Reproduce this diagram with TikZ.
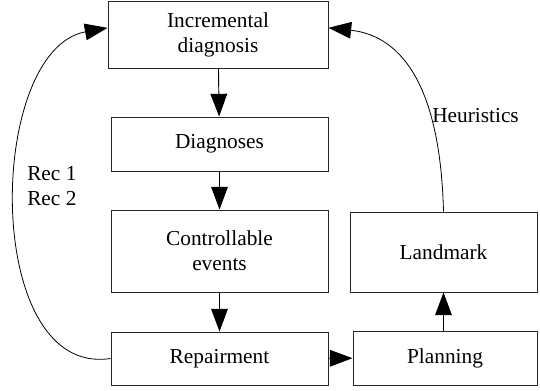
\documentclass[tikz,border=0pt]{standalone}
\usepackage{fontspec}
\setmainfont{Liberation Serif}
\usetikzlibrary{arrows.meta}
\tikzset{
  stagebox/.style={draw=black!85, line width=0.75pt, align=center, inner sep=0pt},
  flowarrow/.style={line width=0.7pt, -{Triangle[length=17pt,width=12.5pt]}},
  looparrow/.style={line width=0.6pt, -{Triangle[length=17pt,width=12.5pt]}},
  looplabel/.style={align=left, inner sep=0pt}
}

\begin{document}
\begin{tikzpicture}[x=0.75pt, y=-0.75pt, font=\fontsize{16}{18.75}\selectfont]
		%%%%% START %%%%%
		\useasboundingbox (0, 0) rectangle (540, 390);
		
		\node[stagebox, minimum width=165pt, minimum height=50.25pt] (incr) at (218, 34.5) {Incremental\\diagnosis};
		\node[stagebox, minimum width=162.75pt, minimum height=40.5pt] (diags) at (219.5, 144) {Diagnoses};
		\node[stagebox, minimum width=162.75pt, minimum height=61.5pt] (ctrl) at (219.5, 251) {Controllable\\events};
		\node[stagebox, minimum width=162.75pt, minimum height=39.75pt] (repair) at (219.5, 358.5) {Repairment};
		
		\node[stagebox, minimum width=140.25pt, minimum height=60pt] (landmark) at (443.5, 252) {Landmark};
		\node[stagebox, minimum width=138pt, minimum height=40.5pt] (plan) at (445, 358) {Planning};
		
		\draw[flowarrow] (incr) -- (diags);
		\draw[flowarrow] (diags) -- (ctrl);
		\draw[flowarrow] (ctrl) -- (repair);
		\draw[flowarrow] (repair) -- (plan);
		\draw[flowarrow] (plan.north -| landmark) -- (landmark);
		
		\draw[looparrow] (repair.west) .. controls (-18, 378) and (-14, 50) .. ([yshift=5pt]incr.west);
		\draw[looparrow] (landmark.north) .. controls (440, 75) and (395, 35) .. ([yshift=5pt]incr.east);
		
		\node[looplabel, anchor=west] (recs) at (27, 186) {Rec 1\\Rec 2};
		\node[looplabel, anchor=west] (heur) at (432, 116) {Heuristics};
		
		%%%%% END %%%%%
	\end{tikzpicture}
\end{document}
